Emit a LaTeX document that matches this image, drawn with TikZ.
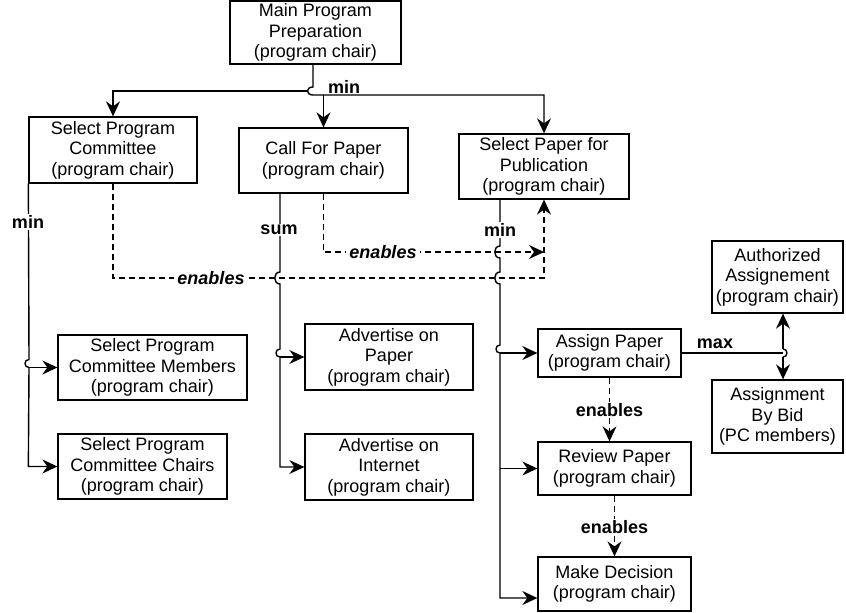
\documentclass[tikz,border=0pt]{standalone}
\usepackage{fontspec}
\setmainfont{Liberation Sans}
\usetikzlibrary{arrows.meta}
\begin{document}
\begin{tikzpicture}[x=1pt,y=-1pt,
  task/.style={draw, line width=1.3pt, fill=white, align=center, inner sep=0pt,
    font=\fontsize{18}{20.5}\selectfont},
  plain/.style={line width=1.4pt},
  tip/.style={-{Stealth[length=15pt,width=14pt,inset=5pt]}},
  link/.style={plain, tip},
  dep/.style={line width=1.3pt, dash pattern=on 6pt off 4pt},
  deplink/.style={dep, tip},
  tag/.style={font=\fontsize{18}{20}\selectfont\bfseries, inner sep=1pt},
  tagbox/.style={tag, fill=white, inner xsep=3pt},
  etag/.style={tagbox, font=\fontsize{18}{20}\selectfont\bfseries\itshape},
]
\useasboundingbox (0,0) rectangle (846,613);

% tasks
\node[task, minimum width=171pt, minimum height=63pt] (main) at (315.5,32.5)
  {Main Program\\Preparation\\(program chair)};
\node[task, minimum width=168pt, minimum height=66pt] (SPC) at (113,150)
  {Select Program\\Committee\\(program chair)};
\node[task, minimum width=169pt, minimum height=65pt] (CFP) at (323.5,160.5)
  {Call For Paper\\(program chair)};
\node[task, minimum width=170pt, minimum height=65pt] (SPP) at (544,166.5)
  {Select Paper for\\Publication\\(program chair)};
\node[task, minimum width=189pt, minimum height=65pt] (SPCM) at (152.5,367.5)
  {Select Program\\Committee Members\\(program chair)};
\node[task, minimum width=169pt, minimum height=65pt] (SPCC) at (142.5,466.5)
  {Select Program\\Committee Chairs\\(program chair)};
\node[task, minimum width=168pt, minimum height=66pt] (AoP) at (389,357)
  {Advertise on\\Paper\\(program chair)};
\node[task, minimum width=168pt, minimum height=66pt] (AoI) at (389,467)
  {Advertise on\\Internet\\(program chair)};
\node[task, minimum width=143pt, minimum height=48pt] (AP) at (609.5,353)
  {Assign Paper\\(program chair)};
\node[task, minimum width=153pt, minimum height=53pt] (RP) at (614.5,468.5)
  {Review Paper\\(program chair)};
\node[task, minimum width=153pt, minimum height=54pt] (MD) at (614.5,584)
  {Make Decision\\(program chair)};
\node[task, minimum width=131pt, minimum height=72pt] (AA) at (777.5,277)
  {Authorized\\Assignement\\(program chair)};
\node[task, minimum width=131pt, minimum height=73pt] (ABB) at (777.5,416.5)
  {Assignment\\By Bid\\(PC members)};

% decomposition of the main task (min)
\coordinate (hopA) at (308,91);
\draw[link] ([xshift=-2.5pt]main.south) -- (313,87)
  .. controls (305.7,87) and (305.7,95) .. (313,95)
  -- (SPP.north |- 0,95) -- (SPP.north);
\draw[link] (CFP.north |- 0,95) -- (CFP.north);
\draw[link] (hopA) -| (SPC.north);
\node[tag] (minTop) at (344,87) {min};

% committee selection (min)
\draw[link] (SPC.south west) -- (29,359.5)
  .. controls (23.7,359.5) and (23.7,367.5) .. (29,367.5)
  -- (SPC.south west |- SPCC.west) -- (SPCC.west);
\draw[link] (SPC.south west |- SPCM.west) -- (SPCM.west);
\node[tagbox] (minSPC) at (28,222) {min};

% call for paper (sum)
\draw[link] (CFP.south -| 280,0) -- (280,272)
  .. controls (273,272) and (273,284) .. (280,284)
  -- (280,349)
  .. controls (274.7,349) and (274.7,357) .. (280,357)
  -- (280,467) -- (AoI.west);
\draw[link] (280,357) -- (AoP.west);
\node[tagbox] (sumCFP) at (279,230) {sum};

% paper selection (min)
\draw[link] (SPP.south -| 500,0) -- (500,246)
  .. controls (493,246) and (493,258) .. (500,258)
  -- (500,272)
  .. controls (493,272) and (493,284) .. (500,284)
  -- (500,345)
  .. controls (494.7,345) and (494.7,353) .. (500,353)
  -- (500,598) -- (MD.west |- 0,598);
\draw[link] (500,353) -- (AP.west);
\draw[link] (500,468.5) -- (RP.west);
\node[tagbox] (minSPP) at (500,230) {min};

% assignment (max)
\draw[plain] (AP.east) -- (783,353);
\draw[plain] (783,349) .. controls (788.3,349) and (788.3,357) .. (783,357);
\draw[link] (783,349) -- (AA.south -| 783,0);
\draw[link] (783,357) -- (ABB.north -| 783,0);
\node[tag] (maxAP) at (715,344) {max};

% enabling dependencies
\draw[deplink] (SPC.south) -- (SPC.south |- 0,278) -- (SPP.south |- 0,278) -- (SPP.south);
\node[etag] (en1) at (211,278) {enables};
\draw[deplink] (CFP.south) -- (CFP.south |- 0,252) -- (SPP.south |- 0,252);
\node[etag] (en2) at (383,252) {enables};
\draw[deplink] (AP.south) -- (AP.south |- RP.north);
\node[tagbox] (en3) at (609.5,410) {enables};
\draw[deplink] (RP.south) -- (MD.north);
\node[tagbox] (en4) at (614.5,527) {enables};
\end{tikzpicture}
\end{document}
